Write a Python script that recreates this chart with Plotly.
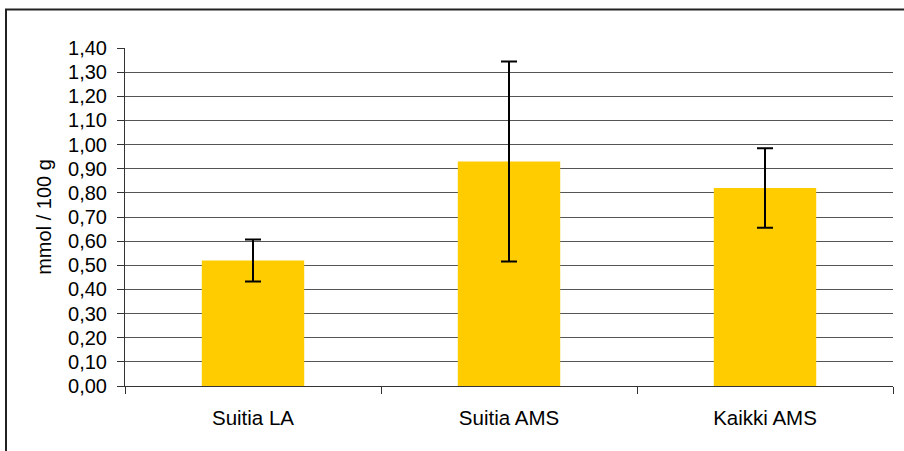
import plotly.graph_objects as go

categories = ["Suitia LA", "Suitia AMS", "Kaikki AMS"]
means = [0.52, 0.93, 0.82]
errors = [0.087, 0.414, 0.165]
y_ticks = [0.0, 0.1, 0.2, 0.3, 0.4, 0.5, 0.6, 0.7, 0.8, 0.9, 1.0, 1.1, 1.2, 1.3, 1.4]
y_title = "mmol / 100 g"

W, H = 904, 451
L, R, T, B = 125, 11, 48, 65
pw, ph = W - L - R, H - T - B

fig = go.Figure()
fig.add_trace(go.Bar(
    x=categories, y=means, width=0.40,
    marker=dict(color="#FFCC00", line=dict(width=0)),
    error_y=dict(type="data", array=errors, symmetric=True,
                 color="black", thickness=2, width=8),
))

def px_x(p):
    return (p - L) / pw

def px_y(p):
    return (H - B - p) / ph

fig.add_shape(type="rect", xref="paper", yref="paper",
              x0=px_x(6), x1=px_x(915), y0=px_y(470), y1=px_y(9.5),
              line=dict(color="#222", width=2), layer="below")

fig.update_layout(
    width=W, height=H,
    margin=dict(l=L, r=R, t=T, b=B),
    paper_bgcolor="white", plot_bgcolor="white",
    font=dict(family="Liberation Sans, Arial, sans-serif", size=20, color="black"),
    separators=", ",
    showlegend=False,
    xaxis=dict(
        type="category", range=[-0.5, 2.5],
        showline=True, linecolor="#333", linewidth=1,
        ticks="outside", ticklen=7, tickcolor="#333", tickson="boundaries",
        showgrid=False, ticklabelstandoff=13,
        tickfont=dict(size=20.5),
    ),
    yaxis=dict(
        range=[0, 1.4], tickvals=y_ticks, tickformat=".2f",
        showline=True, linecolor="#333", linewidth=1,
        ticks="outside", ticklen=7, tickcolor="#333",
        showgrid=True, gridcolor="#555", gridwidth=1,
        zeroline=False, ticklabelstandoff=6,
        title=dict(text=y_title, standoff=11, font=dict(size=20)),
    ),
)

fig.write_html("out.html", config={"displayModeBar": False})
with open("out.html", "r", encoding="utf-8") as f:
    html = f.read()
html = html.replace("<body>", '<body style="margin:0;padding:0;overflow:hidden">', 1)
with open("out.html", "w", encoding="utf-8") as f:
    f.write(html)
